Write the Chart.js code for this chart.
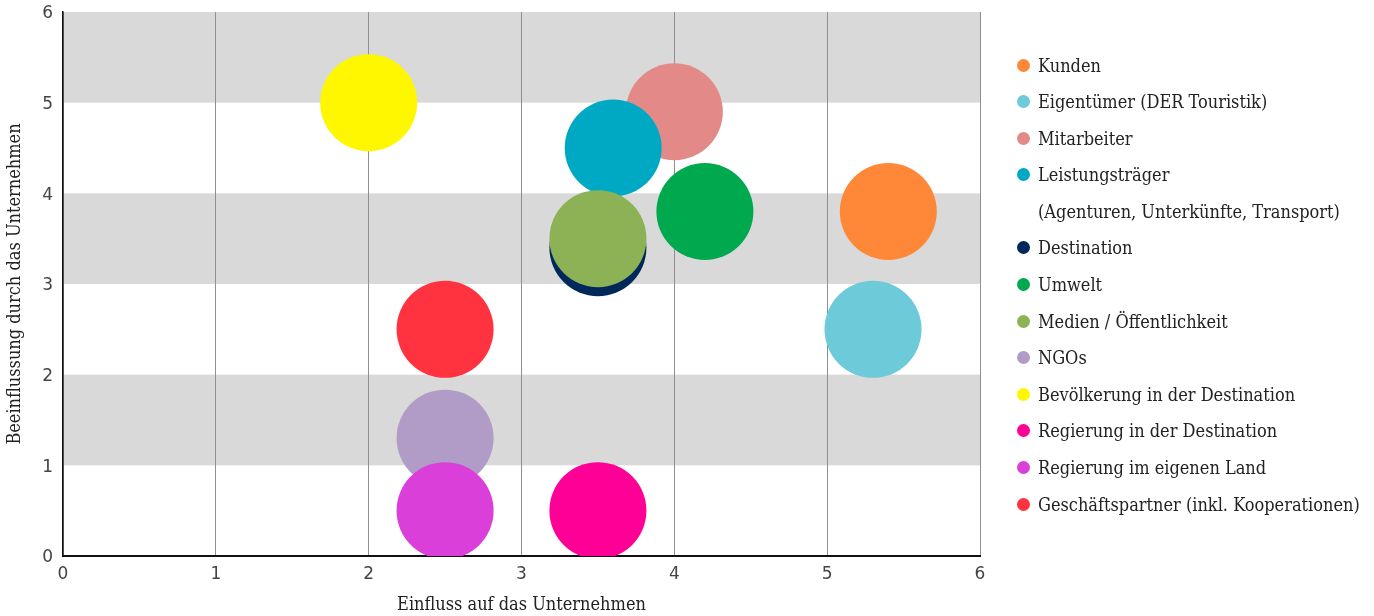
<!DOCTYPE html>
<html lang="de">
<head>
<meta charset="utf-8">
<title>Stakeholder-Matrix</title>
<script src="https://cdn.jsdelivr.net/npm/chart.js@4/dist/chart.umd.min.js"></script>
<style>
  html, body { margin: 0; padding: 0; background: #ffffff; }
  #wrap { position: relative; width: 1374px; height: 616px; }
  #chart { position: absolute; left: 0; top: 0; }
  #legend {
    position: absolute; left: 1017px; top: 53px; margin: 0; padding: 0; list-style: none;
    font-family: "DejaVu Serif Condensed", "DejaVu Serif", serif; font-size: 18px; color: #222;
  }
  #legend li { display: flex; align-items: center; height: 24px; margin-bottom: 12.6px; white-space: nowrap; }
  #legend .dot { width: 13px; height: 13px; border-radius: 50%; margin-right: 8px; flex: none; }
  #legend .nodot { width: 13px; margin-right: 8px; flex: none; }
</style>
</head>
<body>
<div id="wrap">
  <canvas id="chart" width="1374" height="616"></canvas>
  <ul id="legend"></ul>
</div>
<script>
// Stakeholder groups, in legend order
const groups = [
  "Kunden",
  "Eigentümer (DER Touristik)",
  "Mitarbeiter",
  ["Leistungsträger", "(Agenturen, Unterkünfte, Transport)"],
  "Destination",
  "Umwelt",
  "Medien / Öffentlichkeit",
  "NGOs",
  "Bevölkerung in der Destination",
  "Regierung in der Destination",
  "Regierung im eigenen Land",
  "Geschäftspartner (inkl. Kooperationen)"
];

// Einfluss auf das Unternehmen (x)
const einfluss = [5.4, 5.3, 4.0, 3.6, 3.5, 4.2, 3.5, 2.5, 2.0, 3.5, 2.5, 2.5];

// Beeinflussung durch das Unternehmen (y)
const beeinflussung = [3.8, 2.5, 4.9, 4.5, 3.4, 3.8, 3.5, 1.3, 5.0, 0.5, 0.5, 2.5];

const colors = [
  "#ff8838", "#6ccad9", "#e38a88", "#00a9c3", "#00285a", "#00a84e",
  "#8cb255", "#b09cc6", "#fff700", "#ff0096", "#db3fd9", "#ff333f"
];

const axisTicks = [0, 1, 2, 3, 4, 5, 6];

const tickFont = { family: "'DejaVu Sans', sans-serif", size: 17 };
const titleFont = { family: "'DejaVu Serif Condensed', 'DejaVu Serif', serif", size: 18 };

// Alternating grey bands behind the plot
const bandPlugin = {
  id: "bands",
  beforeDraw(chart) {
    const { ctx, chartArea, scales } = chart;
    ctx.save();
    ctx.fillStyle = "#d9d9d9";
    for (let v = 1; v < 6; v += 2) {
      const yTop = scales.y.getPixelForValue(v + 1);
      const yBot = scales.y.getPixelForValue(v);
      ctx.fillRect(chartArea.left, yTop, chartArea.right - chartArea.left, yBot - yTop);
    }
    ctx.restore();
  }
};

const datasets = groups.map((g, i) => ({
  label: Array.isArray(g) ? g.join(" ") : g,
  data: [{ x: einfluss[i], y: beeinflussung[i] }],
  backgroundColor: colors[i],
  borderWidth: 0,
  radius: 48.5,
  order: groups.length - i
}));

new Chart(document.getElementById("chart"), {
  type: "bubble",
  data: { datasets },
  plugins: [bandPlugin],
  options: {
    responsive: false,
    animation: false,
    events: [],
    layout: { autoPadding: false, padding: { left: 0, right: 394, top: 12, bottom: 0 } },
    plugins: { legend: { display: false }, tooltip: { enabled: false } },
    scales: {
      x: {
        type: "linear", min: 0, max: 6,
        afterBuildTicks(scale) { scale.ticks = axisTicks.map(v => ({ value: v })); },
        afterFit(scale) { scale.height = 60; scale.paddingLeft = 0; scale.paddingRight = 0; },
        ticks: { font: tickFont, color: "#444", padding: 8 },
        grid: { color: "#8f8f8f", lineWidth: 1, drawTicks: false },
        border: { color: "#111", width: 2 },
        title: { display: true, text: "Einfluss auf das Unternehmen", font: titleFont, color: "#222", padding: { top: 0, bottom: 0 } }
      },
      y: {
        type: "linear", min: 0, max: 6,
        afterBuildTicks(scale) { scale.ticks = axisTicks.map(v => ({ value: v })); },
        afterFit(scale) { scale.width = 63; scale.paddingTop = 0; scale.paddingBottom = 0; },
        ticks: { font: tickFont, color: "#444", padding: 10, labelOffset: 2 },
        grid: { display: false, drawTicks: false },
        border: { color: "#111", width: 1.5 },
        title: { display: true, text: "Beeinflussung durch das Unternehmen", font: titleFont, color: "#222", padding: { top: 5, bottom: 0 } }
      }
    }
  }
});

// Legend list
const legend = document.getElementById("legend");
groups.forEach((g, i) => {
  const lines = Array.isArray(g) ? g : [g];
  lines.forEach((text, k) => {
    const li = document.createElement("li");
    const dot = document.createElement("span");
    dot.className = k === 0 ? "dot" : "nodot";
    if (k === 0) dot.style.background = colors[i];
    li.appendChild(dot);
    li.appendChild(document.createTextNode(text));
    legend.appendChild(li);
  });
});
</script>
</body>
</html>
